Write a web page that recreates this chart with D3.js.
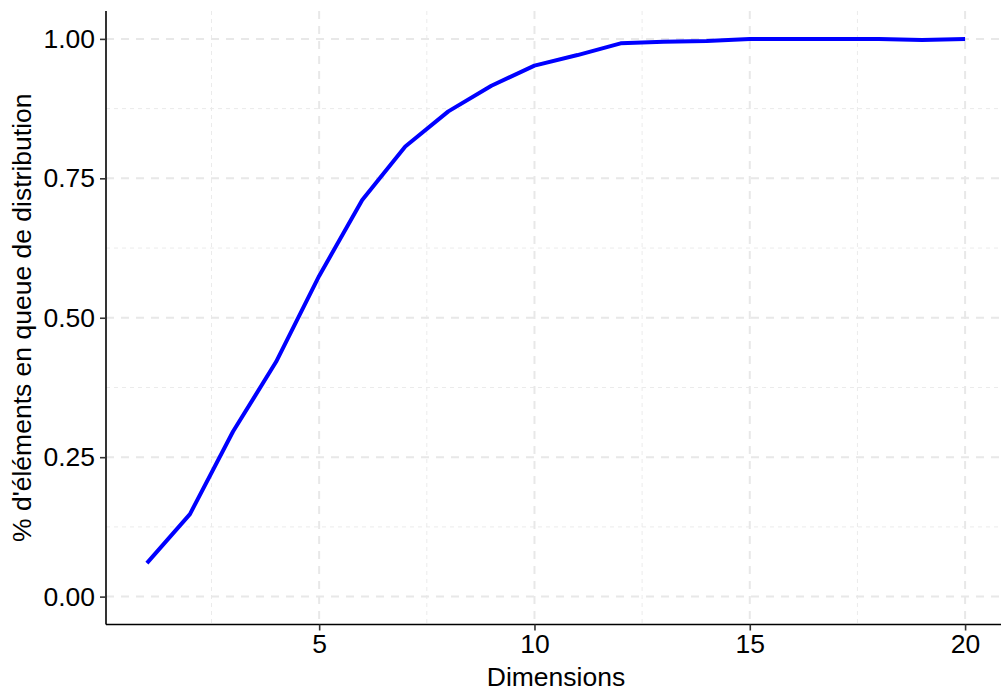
<!DOCTYPE html>
<html>
<head>
<meta charset="utf-8">
<script src="https://cdn.jsdelivr.net/npm/d3@7"></script>
<style>
  body { margin: 0; background: #fff; }
  text { font-family: "Liberation Sans", Arial, sans-serif; fill: #000; }
</style>
</head>
<body>
<script>
// data
const dimensions = [1, 2, 3, 4, 5, 6, 7, 8, 9, 10, 11, 12, 13, 14, 15, 16, 17, 18, 19, 20]
const tailShare = [0.060, 0.148, 0.296, 0.421, 0.575, 0.711, 0.807, 0.870, 0.916, 0.952,
                   0.971, 0.992, 0.995, 0.996, 1.000, 1.000, 1.000, 1.000, 0.998, 1.000]
const xTicks = [5, 10, 15, 20]
const xMinor = [2.5, 7.5, 12.5, 17.5]
const yTicks = [0, 0.25, 0.5, 0.75, 1]
const yMinor = [0.125, 0.375, 0.625, 0.875]

const width = 1001, height = 691
const panel = {x: 106, y: 11, w: 900, h: 613.5}
const fontSize = 26.5

const svg = d3.select("body")
    .append("svg")
    .attr("width", width)
    .attr("height", height)

const xScale = d3.scaleLinear()
    .domain([0.05, 20.95])
    .range([panel.x, panel.x + panel.w])

const yScale = d3.scaleLinear()
    .domain([-0.05, 1.05])
    .range([panel.y + panel.h, panel.y])

const grid = svg.append("g")

// minor grid
grid.selectAll(".vminor")
    .data(xMinor)
    .enter()
    .append("line")
    .attr("x1", d => xScale(d)).attr("x2", d => xScale(d))
    .attr("y1", panel.y).attr("y2", panel.y + panel.h)
    .attr("stroke", "#ebebeb").attr("stroke-width", 1)
    .attr("stroke-dasharray", "4,4")

grid.selectAll(".hminor")
    .data(yMinor)
    .enter()
    .append("line")
    .attr("x1", panel.x).attr("x2", panel.x + panel.w)
    .attr("y1", d => yScale(d)).attr("y2", d => yScale(d))
    .attr("stroke", "#ebebeb").attr("stroke-width", 1)
    .attr("stroke-dasharray", "4,4")

// major grid
grid.selectAll(".vmajor")
    .data(xTicks)
    .enter()
    .append("line")
    .attr("x1", d => xScale(d)).attr("x2", d => xScale(d))
    .attr("y1", panel.y).attr("y2", panel.y + panel.h)
    .attr("stroke", "#e8e8e8").attr("stroke-width", 2)
    .attr("stroke-dasharray", "8,7")

grid.selectAll(".hmajor")
    .data(yTicks)
    .enter()
    .append("line")
    .attr("x1", panel.x).attr("x2", panel.x + panel.w)
    .attr("y1", d => yScale(d)).attr("y2", d => yScale(d))
    .attr("stroke", "#e8e8e8").attr("stroke-width", 2)
    .attr("stroke-dasharray", "8,7")

// the curve
const line = d3.line()
    .x((d, i) => xScale(dimensions[i]))
    .y(d => yScale(d))

svg.append("path")
    .datum(tailShare)
    .attr("d", line)
    .attr("fill", "none")
    .attr("stroke", "#0000ff")
    .attr("stroke-width", 4)
    .attr("stroke-linejoin", "round")

// axes
const xAxis = d3.axisBottom(xScale)
    .tickValues(xTicks)
    .tickFormat(d3.format("d"))
    .tickSize(6)
    .tickPadding(4)

const yAxis = d3.axisLeft(yScale)
    .tickValues(yTicks)
    .tickFormat(d3.format(".2f"))
    .tickSize(6)
    .tickPadding(5)

const gx = svg.append("g")
    .attr("transform", `translate(0,${panel.y + panel.h})`)
    .call(xAxis)

const gy = svg.append("g")
    .attr("transform", `translate(${panel.x},0)`)
    .call(yAxis)

;[gx, gy].forEach(g => {
    g.select(".domain").attr("stroke", "#000").attr("stroke-width", 1.6)
    g.selectAll(".tick line").attr("stroke", "#333").attr("stroke-width", 1.6)
    g.selectAll(".tick text")
        .attr("font-family", "Liberation Sans, Arial, sans-serif")
        .attr("font-size", fontSize)
        .attr("fill", "#000")
})
gx.select(".domain").attr("d", `M${panel.x},0H${width}`)
gy.select(".domain").attr("d", `M0,${panel.y}V${panel.y + panel.h}`)

// titles
svg.append("text")
    .attr("x", xScale(10.5))
    .attr("y", 686)
    .attr("text-anchor", "middle")
    .attr("font-size", fontSize)
    .text("Dimensions")

svg.append("text")
    .attr("transform", `translate(31,${yScale(0.5)}) rotate(-90)`)
    .attr("text-anchor", "middle")
    .attr("font-size", fontSize)
    .text("% d'éléments en queue de distribution")
</script>
</body>
</html>
